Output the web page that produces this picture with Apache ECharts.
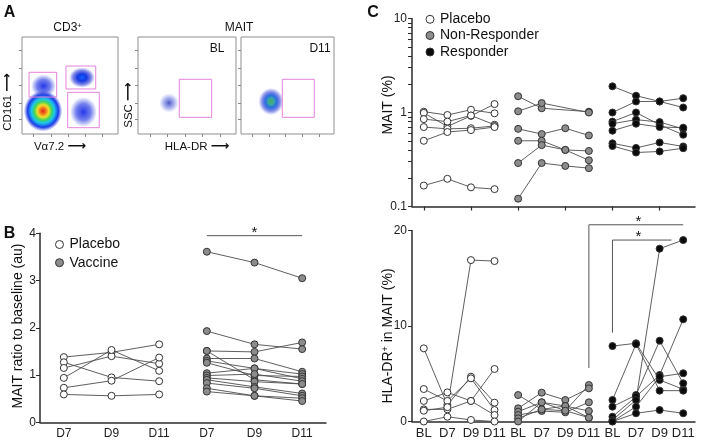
<!DOCTYPE html>
<html><head><meta charset="utf-8">
<script src="https://cdn.jsdelivr.net/npm/echarts@6/dist/echarts.min.js"></script>
<style>html,body{margin:0;padding:0;background:#fff}#c{width:701px;height:440px}</style>
</head><body><div id="c"></div>
<script>
// ---------------- data ----------------
const bDays = ['D7', 'D9', 'D11'];
const bYTicks = [0, 1, 2, 3, 4];
const bPlacebo = [
  [1.38, 1.48, 1.65],
  [1.27, 0.95, 0.87],
  [1.15, 1.40, 1.24],
  [0.94, 1.53, 1.09],
  [0.73, 0.88, 1.37],
  [0.59, 0.56, 0.59]
];
const bVaccine = [
  [3.61, 3.38, 3.05],
  [1.93, 1.65, 1.55],
  [1.51, 1.49, 1.69],
  [1.51, 0.90, 0.81],
  [1.35, 1.35, 1.07],
  [1.30, 1.14, 1.02],
  [1.26, 0.99, 0.97],
  [1.04, 1.14, 0.92],
  [0.99, 1.02, 0.87],
  [0.94, 0.86, 0.81],
  [0.90, 0.75, 0.61],
  [0.83, 0.72, 0.56],
  [0.72, 0.56, 0.51],
  [0.65, 0.56, 0.45]
];
const bSig = { from: 3, to: 5, y: 3.95 };

const cDays = ['BL', 'D7', 'D9', 'D11'];
const cGroups = ['Placebo', 'Non-Responder', 'Responder'];
const cTopLabels = [0.1, 1, 10];
const cTopTicks = [0.1,0.2,0.3,0.4,0.5,0.6,0.7,0.8,0.9,1,2,3,4,5,6,7,8,9,10];
const cBotTicks = [0, 10, 20];
const maitPlacebo = [
  [1.02, 0.94, 1.07, 0.98],
  [0.99, 0.71, 0.92, 1.23],
  [0.85, 0.80, 0.93, 0.74],
  [0.70, 0.67, 0.68, 0.72],
  [0.50, 0.62, 0.65, 0.70],
  [0.167, 0.197, 0.16, 0.153]
];
const maitNonResp = [
  [1.49, 1.11, null, 1.02],
  [1.03, 1.26, null, 1.00],
  [0.67, 0.59, 0.68, 0.57],
  [0.50, 0.50, 0.40, 0.31],
  [0.29, 0.45, 0.40, 0.39],
  [0.121, 0.29, 0.27, 0.256]
];
const maitResp = [
  [1.90, 1.51, 1.31, 1.13],
  [1.00, 1.31, 1.31, 1.42],
  [0.80, 1.00, 0.74, 0.58],
  [0.76, 0.84, 0.79, 0.67],
  [0.64, 0.76, 0.70, 0.69],
  [0.47, 0.42, 0.48, 0.435],
  [0.44, 0.375, 0.385, 0.417]
];
const hlaPlacebo = [
  [7.66, 1.73, 4.69, 1.97],
  [3.40, 2.15, 4.52, 1.20],
  [2.15, 3.05, 2.15, 0.68],
  [1.27, 1.27, 2.15, 5.5],
  [1.13, 1.50, 16.9, 16.8],
  [0, 0.5, 0.16, 0]
];
const hlaNonResp = [
  [2.77, 1.27, 1.13, 3.82],
  [1.38, 3.02, 2.25, 3.47],
  [1.03, 2.01, 1.62, 0.40],
  [0.68, 1.10, 0.96, 2.01],
  [0.33, 1.27, 1.62, 1.10],
  [0, 2.01, 1.13, 0.40]
];
const hlaResp = [
  [7.9, 8.19, 4.35, 3.37],
  [2.25, 8.1, 3.23, 3.23],
  [1.55, 2.77, 8.46, 4.0],
  [0.5, 2.6, 4.87, 10.7],
  [0.16, 2.25, 18.1, 19.0],
  [0, 1.55, 4.69, 5.05],
  [0, 0.86, 1.2, 0.86]
];
const cSig1 = { x: 7, yLow: 5.6, yTop: 20.6, x2: 11, star: 9.1 };
const cSig2 = { x: 8, yLow: 9.3, yTop: 19.0, x2: 10.5, star: 9.1 };

// flow cytometry populations: [x, y, radiusX, radiusY, density level] (axis units 0-100)
const flowCD3 = [
  [21.9, 23.7, 20, 21, 5],
  [22.4, 49.5, 13, 12, 1],
  [62.5, 58.2, 13.5, 10.5, 2],
  [64.0, 22.7, 14, 15.5, 1]
];
const flowBL = [[31.6, 32.0, 10, 10, 0]];
const flowD11 = [[32.3, 33.5, 13.5, 14, 3]];
// gates: [x1, y1, x2, y2]
const gatesCD3 = [[7.3, 38.1, 36.1, 63.6], [45.8, 46.4, 76.8, 70.1], [47.6, 6.5, 80.5, 43.0]];
const gateBL = [[42.1, 17.2, 75.2, 56.4]];
const gateD11 = [[44.4, 17.2, 78.8, 56.4]];

// ---------------- chart ----------------
const chart = echarts.init(document.getElementById('c'), null, { renderer: 'canvas' });
const FONT = '"Liberation Sans", Arial, sans-serif';
const AX = '#2b2b2b';
const LINE = '#4d4d4d';

const bCats = [];
['P', 'V'].forEach(g => bDays.forEach(d => bCats.push(g + '|' + d)));
const cCats = [];
['P', 'N', 'R'].forEach(g => cDays.forEach(d => cCats.push(g + '|' + d)));
const catLabel = v => String(v).split('|')[1];

const fills = { P: '#ffffff', V: '#8c8c8c', N: '#8c8c8c', R: '#0a0a0a' };

const blobStops = {
  0: [{offset:0,color:'rgba(45,60,190,0.85)'},{offset:0.55,color:'rgba(70,90,215,0.45)'},{offset:1,color:'rgba(90,110,230,0)'}],
  1: [{offset:0,color:'rgba(25,45,235,0.95)'},{offset:0.55,color:'rgba(40,60,225,0.65)'},{offset:1,color:'rgba(60,75,225,0)'}],
  2: [{offset:0,color:'#0f62ff'},{offset:0.35,color:'#1638e2'},{offset:0.7,color:'rgba(40,55,215,0.6)'},{offset:1,color:'rgba(60,70,220,0)'}],
  3: [{offset:0,color:'#4aa85a'},{offset:0.22,color:'#3aa9a0'},{offset:0.45,color:'#2a6fe0'},{offset:0.72,color:'rgba(35,55,215,0.55)'},{offset:1,color:'rgba(60,70,220,0)'}],
  5: [{offset:0,color:'#e4201c'},{offset:0.16,color:'#f07d1c'},{offset:0.3,color:'#f2df2a'},{offset:0.45,color:'#42d45c'},{offset:0.6,color:'#1cc6ee'},{offset:0.8,color:'#1c3ce8'},{offset:1,color:'rgba(40,50,220,0)'}]
};

function blobRender(params, api) {
  const c = api.coord([api.value(0), api.value(1)]);
  const s = api.size([api.value(2), api.value(3)]);
  const lvl = api.value(4);
  return {
    type: 'circle', x: c[0], y: c[1], scaleY: s[1] / s[0],
    shape: { cx: 0, cy: 0, r: s[0] },
    style: { fill: { type: 'radial', x: 0.5, y: 0.5, r: 0.5, colorStops: blobStops[lvl] } }
  };
}
function gateRender(params, api) {
  const a = api.coord([api.value(0), api.value(3)]);
  const b = api.coord([api.value(2), api.value(1)]);
  return {
    type: 'rect', shape: { x: a[0], y: a[1], width: b[0] - a[0], height: b[1] - a[1] },
    style: { fill: 'none', stroke: '#e483dc', lineWidth: 1 }
  };
}

const grids = [
  { left: 40, top: 233.3, width: 286, height: 189 },
  { left: 412, top: 18.5, width: 283, height: 188 },
  { left: 412, top: 230.5, width: 283, height: 191 },
  { left: 22, top: 37, width: 96, height: 97, show: true, borderColor: '#8f8f8f', borderWidth: 1 },
  { left: 138, top: 37, width: 98, height: 97, show: true, borderColor: '#8f8f8f', borderWidth: 1 },
  { left: 241, top: 37, width: 93, height: 97, show: true, borderColor: '#8f8f8f', borderWidth: 1 }
];

const axLine = { show: true, lineStyle: { color: AX, width: 1.5 } };
const lbl = { color: '#222', fontSize: 12, fontFamily: FONT };

const xAxes = [
  { type: 'category', gridIndex: 0, data: bCats, axisLine: axLine, axisTick: { show: false },
    axisLabel: Object.assign({ formatter: catLabel, margin: 5, interval: 0 }, lbl) },
  { type: 'category', gridIndex: 1, data: cCats, axisLine: axLine,
    axisTick: { show: true, alignWithLabel: true, length: 4, lineStyle: { color: AX, width: 1.2 } },
    axisLabel: { show: false } },
  { type: 'category', gridIndex: 2, data: cCats, axisLine: axLine, axisTick: { show: false },
    axisLabel: Object.assign({ formatter: catLabel, margin: 5, interval: 0 }, lbl, { fontSize: 13 }) }
];
const yAxes = [
  { type: 'value', gridIndex: 0, min: 0, max: 4, interval: 1, axisLine: axLine,
    axisTick: { show: true, length: 4, lineStyle: { color: AX } }, splitLine: { show: false },
    axisLabel: Object.assign({ margin: 4, customValues: bYTicks }, lbl) },
  { type: 'log', gridIndex: 1, min: 0.1, max: 10, logBase: 10, axisLine: axLine,
    axisTick: { show: true, length: 4, customValues: cTopTicks, lineStyle: { color: AX } },
    splitLine: { show: false }, minorTick: { show: false },
    axisLabel: Object.assign({ margin: 5, customValues: cTopLabels, formatter: v => String(+(+v).toPrecision(2)) }, lbl) },
  { type: 'value', gridIndex: 2, min: 0, max: 20, interval: 10, axisLine: axLine,
    axisTick: { show: true, length: 4, lineStyle: { color: AX } }, splitLine: { show: false },
    axisLabel: Object.assign({ margin: 5, customValues: cBotTicks }, lbl) }
];
const flowTicks = [[12, 30, 48, 66, 84], [15, 32, 50, 68, 86]];
for (let g = 3; g <= 5; g++) {
  xAxes.push({ type: 'value', gridIndex: g, min: 0, max: 100, axisLine: { show: false }, splitLine: { show: false },
    axisLabel: { show: false }, axisTick: { show: true, length: 3, customValues: flowTicks[0], lineStyle: { color: '#888' } } });
  yAxes.push({ type: 'value', gridIndex: g, min: 0, max: 100, axisLine: { show: false }, splitLine: { show: false },
    axisLabel: { show: false }, axisTick: { show: true, length: 3, customValues: flowTicks[1], lineStyle: { color: '#888' } } });
}

const series = [];
function addGroup(rows, cats, offset, axisIndex, key) {
  const pts = [];
  rows.forEach(row => {
    const data = [];
    row.forEach((v, i) => { if (v !== null) { data.push([cats[offset + i], v]); pts.push([cats[offset + i], v]); } });
    series.push({ type: 'line', xAxisIndex: axisIndex, yAxisIndex: axisIndex, data: data, symbol: 'none',
      lineStyle: { color: LINE, width: 0.9 }, z: 2, silent: true });
  });
  series.push({ type: 'scatter', xAxisIndex: axisIndex, yAxisIndex: axisIndex, data: pts, symbol: 'circle', symbolSize: 7,
    itemStyle: { color: fills[key], borderColor: '#333', borderWidth: 1, opacity: 1 }, z: 3, silent: true });
}
addGroup(bPlacebo, bCats, 0, 0, 'P');
addGroup(bVaccine, bCats, 3, 0, 'V');
addGroup(maitPlacebo, cCats, 0, 1, 'P');
addGroup(maitNonResp, cCats, 4, 1, 'N');
addGroup(maitResp, cCats, 8, 1, 'R');
addGroup(hlaPlacebo, cCats, 0, 2, 'P');
addGroup(hlaNonResp, cCats, 4, 2, 'N');
addGroup(hlaResp, cCats, 8, 2, 'R');

[[flowCD3, gatesCD3, 3], [flowBL, gateBL, 4], [flowD11, gateD11, 5]].forEach(([blobs, gates, g]) => {
  series.push({ type: 'custom', coordinateSystem: 'cartesian2d', xAxisIndex: g, yAxisIndex: g, data: blobs,
    renderItem: blobRender, clip: true, silent: true, z: 2 });
  series.push({ type: 'custom', coordinateSystem: 'cartesian2d', xAxisIndex: g, yAxisIndex: g, data: gates,
    renderItem: gateRender, silent: true, z: 3 });
});

chart.setOption({ animation: false, backgroundColor: '#fff', grid: grids, xAxis: xAxes, yAxis: yAxes, series: series });

// ---------------- annotations ----------------
function px(ai, xi, v) {
  const cats = ai === 0 ? bCats : cCats;
  const lo = Math.floor(xi), hi = Math.ceil(xi);
  const a = chart.convertToPixel({ xAxisIndex: ai, yAxisIndex: ai }, [cats[lo], v]);
  const b = chart.convertToPixel({ xAxisIndex: ai, yAxisIndex: ai }, [cats[hi], v]);
  const t = xi - lo;
  return [a[0] + (b[0] - a[0]) * t, a[1]];
}
const G = [];
function txt(x, y, text, size, opts) {
  G.push(Object.assign({ type: 'text', x: x, y: y, silent: true,
    style: Object.assign({ text: text, fontSize: size, fontFamily: FONT, fill: '#111', align: 'center', verticalAlign: 'middle' }, (opts && opts.style) || {}) },
    opts && opts.rotation !== undefined ? { rotation: opts.rotation } : {}));
}
const R90 = Math.PI / 2;
const arrowRich = { t: { fontSize: 11.5, fontFamily: FONT, fill: '#111' }, a: { fontSize: 13, fontFamily: '"DejaVu Sans", sans-serif', fill: '#111', fontWeight: 'bold' } };
// panel letters
txt(9.5, 12.5, 'A', 16, { style: { fontWeight: 'bold' } });
txt(9.5, 234, 'B', 16, { style: { fontWeight: 'bold' } });
txt(373, 12.5, 'C', 16, { style: { fontWeight: 'bold' } });
// panel A texts
txt(67.7, 28, '{n|CD3}{s|+}', 12, { style: { rich: { n: { fontSize: 12, fontFamily: FONT, fill: '#111' }, s: { fontSize: 8, fontFamily: FONT, fill: '#111', verticalAlign: 'top', padding: [0, 0, 4, 0] } } } });
txt(239, 28, 'MAIT', 12);
txt(217, 48.5, 'BL', 12);
txt(320, 48.5, 'D11', 12);
txt(8, 102, '{t|CD161 }{a|\u27f6}', 11.5, { rotation: R90, style: { rich: arrowRich } });
txt(60, 146.5, '{t|V\u03b17.2 }{a|\u27f6}', 11.5, { style: { rich: arrowRich } });
txt(129, 105, '{t|SSC }{a|\u27f6}', 11.5, { rotation: R90, style: { rich: arrowRich } });
txt(197, 146.5, '{t|HLA-DR }{a|\u27f6}', 11.5, { style: { rich: arrowRich } });
// axis names
txt(18, 326, 'MAIT ratio to baseline (au)', 14, { rotation: R90 });
txt(388, 105, 'MAIT (%)', 14, { rotation: R90 });
txt(388, 336, '{n|HLA-DR}{s|+}{n| in MAIT (%)}', 14, { rotation: R90, style: { rich: { n: { fontSize: 14, fontFamily: FONT, fill: '#111' }, s: { fontSize: 9, fontFamily: FONT, fill: '#111', verticalAlign: 'top', padding: [0, 0, 5, 0] } } } });
// legends
function legendItem(cx, cy, fill, label) {
  G.push({ type: 'circle', shape: { cx: cx, cy: cy, r: 4 }, style: { fill: fill, stroke: '#333', lineWidth: 1 }, silent: true });
  G.push({ type: 'text', x: cx + 10, y: cy, silent: true, style: { text: label, fontSize: 14, fontFamily: FONT, fill: '#111', align: 'left', verticalAlign: 'middle' } });
}
legendItem(59.5, 244.5, fills.P, 'Placebo');
legendItem(59.5, 262.7, fills.V, 'Vaccine');
legendItem(430, 19.3, fills.P, cGroups[0]);
legendItem(430, 35.5, fills.N, cGroups[1]);
legendItem(430, 52, fills.R, cGroups[2]);
// significance marks
const sigStyle = { stroke: '#555', lineWidth: 1, fill: 'none' };
{
  const a = px(0, bSig.from, bSig.y), b = px(0, bSig.to, bSig.y);
  G.push({ type: 'polyline', shape: { points: [a, b] }, style: sigStyle, silent: true });
  txt((a[0] + b[0]) / 2, a[1] - 3, '*', 15);
}
[cSig1, cSig2].forEach(s => {
  const p1 = px(2, s.x, s.yLow), p2 = px(2, s.x, s.yTop), p3 = px(2, s.x2, s.yTop);
  G.push({ type: 'polyline', shape: { points: [p1, p2, p3] }, style: sigStyle, silent: true });
  const st = px(2, s.star, s.yTop);
  txt(st[0], st[1] - 3, '*', 15);
});
chart.setOption({ graphic: { elements: G } });
</script></body></html>
